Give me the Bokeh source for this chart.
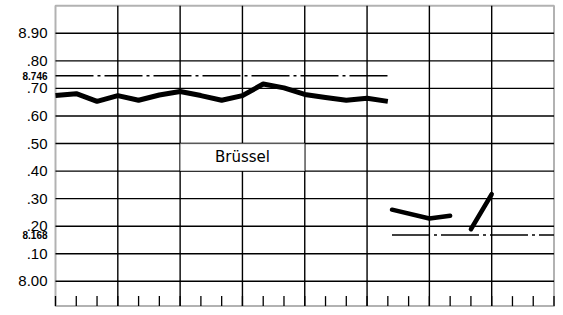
import math
from bokeh.plotting import figure
from bokeh.models import Range1d, BoxAnnotation
from bokeh.embed import file_html
from bokeh.resources import INLINE
from bokeh.core.properties import value

# ---- data ----
period_main = [0, 1, 2, 3, 4, 5, 6, 7, 8, 9, 10, 11, 12, 13, 14, 15, 16]
rate_main = [8.674, 8.681, 8.653, 8.674, 8.657, 8.676, 8.689, 8.674, 8.657,
             8.674, 8.716, 8.702, 8.678, 8.667, 8.657, 8.664, 8.653]
period_late_a = [16.2, 18, 19]
rate_late_a = [8.260, 8.228, 8.238]
period_late_b = [20, 21]
rate_late_b = [8.189, 8.316]

ref_levels = [8.746, 8.168]
ref_labels = ["8.746", "8.168"]
ref_span_early = [0, 16.15]
ref_span_late = [16.2, 24]

y_ticks = [8.0, 8.1, 8.2, 8.3, 8.4, 8.5, 8.6, 8.7, 8.8, 8.9]
y_tick_labels = ["8.00", ".10", ".20", ".30", ".40", ".50", ".60", ".70", ".80", "8.90"]
x_minor = list(range(0, 25))
x_major = [3, 6, 9, 12, 15, 18, 21]
x_lo, x_hi = 0, 24
y_lo, y_hi = 7.91, 9.0
label_text = "Brüssel"
label_box = dict(left=6, right=12, bottom=8.4, top=8.5)

FONT = "Liberation Sans"

# the frame covers the whole canvas; the left part holds the value labels
p = figure(width=555, height=307, output_backend="svg", toolbar_location=None,
           x_range=Range1d(-2.648, 24.072), y_range=Range1d(7.905, 9.019),
           min_border=0)
p.axis.visible = False
p.grid.visible = False
p.outline_line_color = None
p.background_fill_color = "white"
p.border_fill_color = "white"

# grid lines (built from the tick lists)
p.segment(x0=x_lo, x1=x_hi, y0=y_ticks, y1=y_ticks, line_color="black", line_width=1.4)
p.segment(x0=x_major, x1=x_major, y0=y_lo, y1=y_hi, line_color="black", line_width=1.4)
# inward ticks on the bottom edge
p.ray(x=x_minor, y=y_lo, length=10, length_units="screen", angle=math.pi / 2,
      line_color="black", line_width=1.3)

# reference lines (dash-dot)
p.line(ref_span_early, [ref_levels[0]] * 2, line_color="black", line_width=1.6,
       line_dash="38 4 3 4")
p.line(ref_span_late, [ref_levels[1]] * 2, line_color="black", line_width=1.6,
       line_dash="38 4 3 4")

# data lines
p.line(period_main, rate_main, line_color="black", line_width=5, line_join="round")
p.line(period_late_a, rate_late_a, line_color="black", line_width=4.5, line_cap="round",
       line_join="round")
p.line(period_late_b, rate_late_b, line_color="black", line_width=4.5, line_cap="round")

# frame
p.add_layout(BoxAnnotation(left=x_lo, right=x_hi, bottom=y_lo, top=y_hi,
                           fill_alpha=0, line_color="black", line_width=2))

# label box
p.add_layout(BoxAnnotation(fill_color="white", fill_alpha=1.0, line_color="black",
                           line_width=1.5, **label_box))
p.text(x=[(label_box["left"] + label_box["right"]) / 2],
       y=[(label_box["bottom"] + label_box["top"]) / 2],
       text=[label_text], text_align="center", text_baseline="middle",
       text_font=value("DejaVu Sans"), text_font_size="15px", text_color="black",
       level="overlay")

# value labels on the left
p.text(x=x_lo, y=y_ticks, text=y_tick_labels, x_offset=-8,
       text_align="right", text_baseline="middle",
       text_font=value(FONT), text_font_size="15px", text_color="black")
p.text(x=x_lo, y=ref_levels, text=ref_labels, x_offset=-8,
       text_align="right", text_baseline="middle",
       text_font=value(FONT), text_font_style="bold",
       text_font_size="10px", text_color="black")

open("out.html", "w").write(file_html(p, INLINE))
